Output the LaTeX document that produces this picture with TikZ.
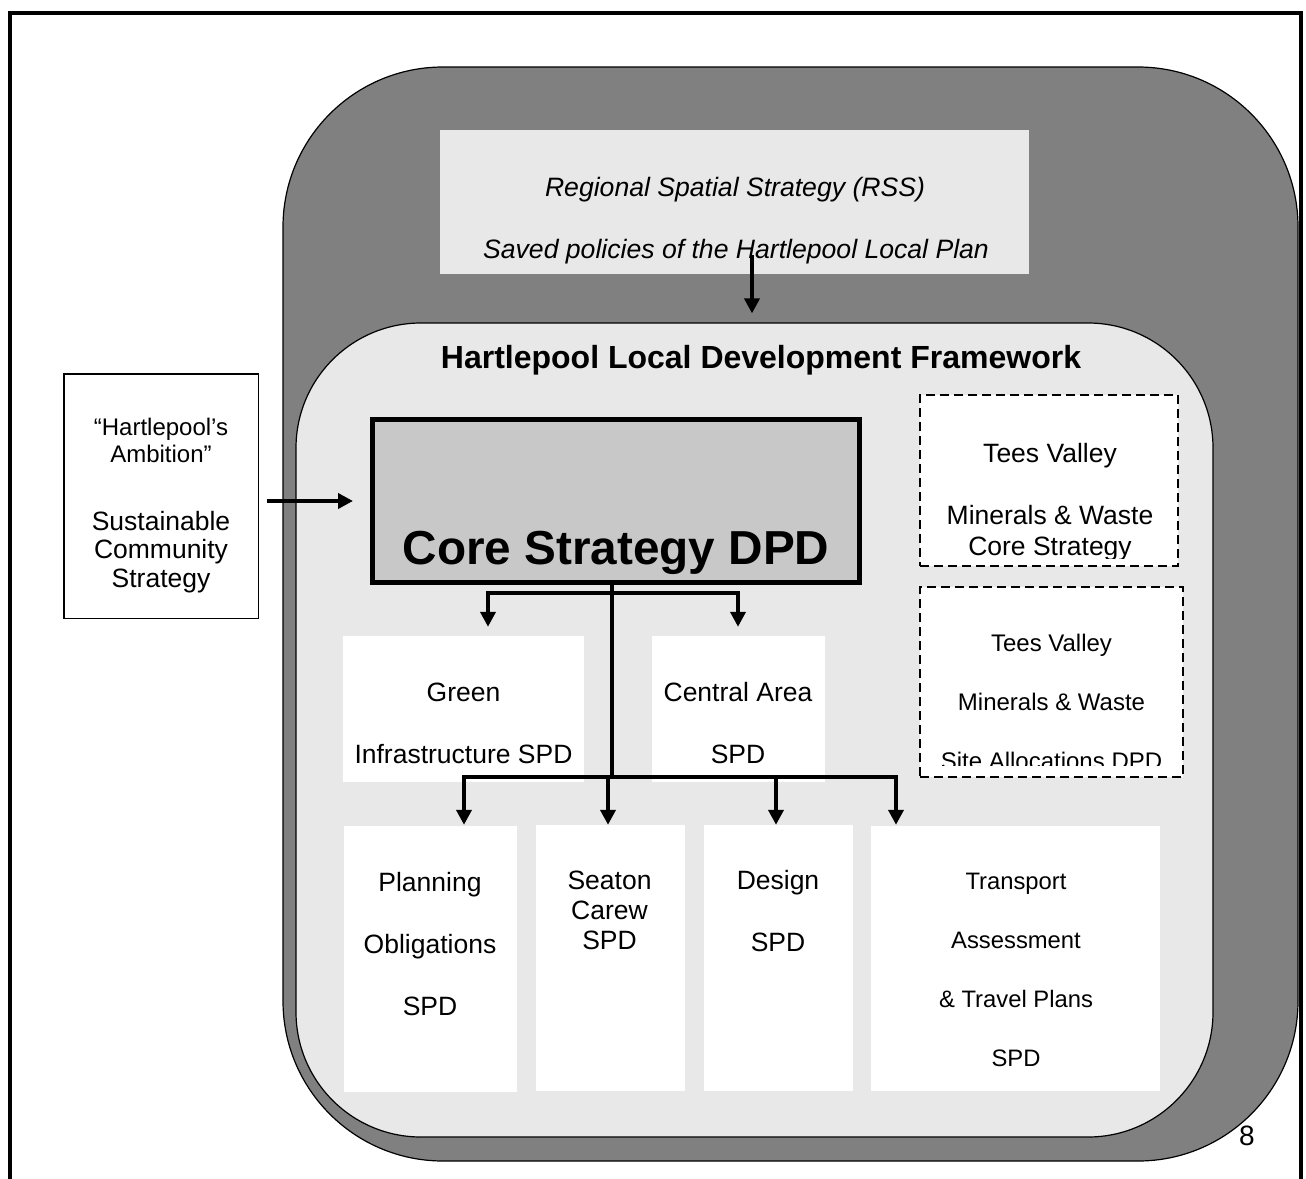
\documentclass[tikz,border=0pt]{standalone}
\usepackage{fontspec}
\setmainfont{Liberation Sans}
\usetikzlibrary{arrows.meta,positioning,calc}
\definecolor{darkband}{HTML}{808080}
\definecolor{paleband}{HTML}{E8E8E8}
\definecolor{coregrey}{HTML}{C8C8C8}

\begin{document}
\begin{tikzpicture}[x=1pt,y=-1pt,
  spd/.style={fill=white,inner sep=0pt},
  txt/.style={anchor=base,align=center,inner sep=0pt},
  flow/.style={-{Triangle[width=15pt,length=15pt]},line width=4pt},
  mw/.style={draw,line width=2.2pt,dash pattern=on 9pt off 5pt,fill=white,inner sep=0pt}]
\useasboundingbox (0,0) rectangle (1306,1178);
% page frame, open at the foot
\draw[line width=4.5pt] (10,1200) |- (1301,13) -- (1301,1200);

% outer band and LDF panel
\node[draw,line width=1.2pt,fill=darkband,rounded corners=160pt,minimum width=1015pt,minimum height=1094pt,inner sep=0pt] (band) at (790.5,614) {};
\node[draw,line width=1.2pt,fill=paleband,rounded corners=125pt,minimum width=917pt,minimum height=814pt,inner sep=0pt] (panel) at (754.5,730) {};

\node[fill=paleband,minimum width=589pt,minimum height=144pt,inner sep=0pt] (rss) at (734.5,202) {};
\node[txt,font=\fontsize{26.6}{32}\selectfont\itshape] (rss1) at (735,196) {Regional Spatial Strategy (RSS)};
\node[txt,font=\fontsize{26.6}{32}\selectfont\itshape] (rss2) at (736,258) {Saved policies of the Hartlepool Local Plan};
\node[txt,font=\fontsize{32}{36}\selectfont\bfseries] (ldf) at (761,368) {Hartlepool Local Development Framework};

% core strategy
\node[draw,line width=5pt,fill=coregrey,minimum width=487pt,minimum height=163pt,inner sep=0pt] (core) at (616,501) {};
\node[txt,font=\fontsize{47.7}{52}\selectfont\bfseries] (coret) at (616,564) {Core Strategy DPD};

% community strategy (multi-line labels sit on their last baseline)
\node[draw,line width=1.5pt,fill=white,minimum width=194.5pt,minimum height=244.5pt,inner sep=0pt] (scs) at (161,496) {};
\node[txt,font=\fontsize{24}{27}\selectfont] (scs1) at (161,462) {“Hartlepool’s\\Ambition”};
\node[txt,font=\fontsize{26.5}{28.5}\selectfont] (scs2) at (161,587) {Sustainable\\Community\\Strategy};

% tees valley minerals and waste
\node[mw,minimum width=258pt,minimum height=171pt] (tv1) at (1049,480.5) {};
\node[mw,minimum width=263pt,minimum height=190pt] (tv2) at (1051.5,682) {};
\begin{scope}
\clip (tv1.north west) rectangle ($(tv1.south east)+(0,-9)$);
\node[txt,font=\fontsize{26.5}{31}\selectfont] (tv1t) at (1050,555) {Tees Valley\\[31pt]Minerals \& Waste\\Core Strategy};
\end{scope}
\begin{scope}
\clip (tv2.north west) rectangle ($(tv2.south east)+(0,-13)$);
\node[txt,font=\fontsize{24}{59}\selectfont] (tv2t) at (1051.5,769) {Tees Valley\\Minerals \& Waste\\Site Allocations DPD};
\end{scope}

% supplementary planning documents
\node[spd,minimum width=241pt,minimum height=146pt] (green) at (463.5,709) {};
\node[spd,minimum width=173pt,minimum height=146pt] (central) at (738.5,709) {};
\node[spd,minimum width=173pt,minimum height=266pt] (plan) at (430.5,959) {};
\node[spd,minimum width=149pt,minimum height=266pt] (seaton) at (610.5,958) {};
\node[spd,minimum width=149pt,minimum height=266pt] (design) at (778.5,958) {};
\node[spd,minimum width=289pt,minimum height=265pt] (transport) at (1015.5,958.5) {};

\node[txt,font=\fontsize{26.5}{62}\selectfont] (greent) at (463.5,763) {Green\\Infrastructure SPD};
\node[txt,font=\fontsize{26.5}{62}\selectfont] (centralt) at (738,763) {Central Area\\SPD};
\node[txt,font=\fontsize{26.5}{62}\selectfont] (plant) at (430,1015) {Planning\\Obligations\\SPD};
\node[txt,font=\fontsize{26.5}{30}\selectfont] (seatont) at (609.5,949) {Seaton\\Carew\\SPD};
\node[txt,font=\fontsize{26.5}{62}\selectfont] (designt) at (778,951) {Design\\SPD};
\node[txt,font=\fontsize{23.8}{59}\selectfont] (transportt) at (1016,1066) {Transport\\Assessment\\\& Travel Plans\\SPD};

\node[txt,font=\fontsize{28}{32}\selectfont] (pagenum) at (1247,1145) {8};

% connectors
\coordinate (hubA) at (612,593);
\coordinate (hubB) at (612,777);
\draw[flow] ($(rss.south)+(17.5,-19)$) -- ($(panel.north)+(-2.5,-9)$);
\draw[flow,shorten <=8pt,shorten >=17pt] (scs.east |- core.west) -- (core.west);
\draw[line width=4pt] (core.south -| hubA) -- (hubB);
\draw[flow] (hubA) -| ($(green.north)+(24.5,-9)$);
\draw[flow] (hubA) -| ($(central.north)+(-0.5,-9)$);
\draw[flow] (hubB) -| ($(plan.north)+(33.5,-1)$);
\draw[flow] (hubB) -| ($(seaton.north)+(-2.5,0)$);
\draw[flow] (hubB) -| ($(design.north)+(-2.5,0)$);
\draw[flow] (hubB) -| ($(transport.north)+(-119.5,-1)$);
\end{tikzpicture}
\end{document}
